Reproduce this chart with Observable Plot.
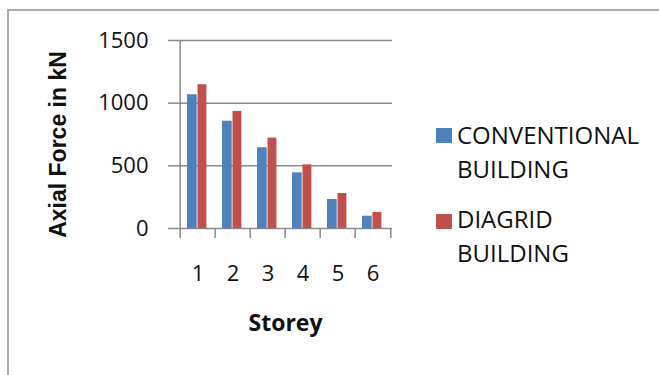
<!DOCTYPE html>
<html>
<head>
<meta charset="utf-8">
<script src="https://cdn.jsdelivr.net/npm/d3@7"></script>
<script src="https://cdn.jsdelivr.net/npm/@observablehq/plot@0.6"></script>
<style>
  body { margin: 0; background: #fff; }
  #chart { position: relative; width: 659px; height: 375px; overflow: hidden; font-family: "Open Sans", sans-serif; }
  #chart svg { position: absolute; left: 0; top: 0; }
  #border { position: absolute; left: 7px; top: 9px; width: 800px; height: 500px;
            border-top: 2px solid #acacac; border-left: 2px solid #acacac; }
  .key { position: absolute; width: 16px; height: 15px; }
  .lab { position: absolute; font-size: 24px; line-height: 24px; color: #111; white-space: nowrap; }
</style>
</head>
<body>
<div id="chart"><div id="border"></div></div>
<script>
// Axial force per storey (kN)
const storeys = ["1", "2", "3", "4", "5", "6"];
const conventional = [1067, 856, 644, 444, 231, 98];
const diagrid = [1147, 934, 721, 508, 279, 128];
const seriesNames = ["CONVENTIONAL BUILDING", "DIAGRID BUILDING"];
const seriesColors = ["#4F81BD", "#C0504D"];
const yTicks = [0, 500, 1000, 1500];

const convRows = storeys.map((s, i) => ({storey: s, series: seriesNames[0], value: conventional[i]}));
const diagRows = storeys.map((s, i) => ({storey: s, series: seriesNames[1], value: diagrid[i]}));

const W = 659, H = 375;
const mL = 178, mR = 267, mT = 40, mB = 147;
const step = (W - mL - mR) / storeys.length;
const gray = "#8a8a8a";
const font = "Open Sans, sans-serif";

const plot = Plot.plot({
  width: W,
  height: H,
  marginLeft: mL,
  marginRight: mR,
  marginTop: mT,
  marginBottom: mB,
  style: {fontFamily: font, background: "transparent", overflow: "visible"},
  x: {type: "band", domain: storeys, padding: 0, axis: null, label: null},
  y: {domain: [0, 1500], axis: null, label: null},
  color: {domain: seriesNames, range: seriesColors},
  marks: [
    Plot.gridY(yTicks, {stroke: gray, strokeOpacity: 1, strokeWidth: 1.5}),
    Plot.barY(convRows, {x: "storey", y: "value", fill: "series", insetLeft: 7, insetRight: 18.3}),
    Plot.barY(diagRows, {x: "storey", y: "value", fill: "series", insetLeft: 17.5, insetRight: 8.6}),
    // vertical axis line at the left edge of the first band
    Plot.ruleX([storeys[0]], {x: d => d, y1: 0, y2: 1500, dx: -step / 2, stroke: gray, strokeWidth: 1.5}),
    // category boundary tick marks
    Plot.axisX({label: null, tickSize: 10, tickFormat: () => "", dx: -step / 2, stroke: gray, strokeWidth: 1.5}),
    Plot.axisX({label: null, ticks: [storeys[storeys.length - 1]], tickSize: 10, tickFormat: () => "", dx: step / 2, stroke: gray, strokeWidth: 1.5}),
    // category labels
    Plot.axisX({label: null, tickSize: 0, tickPadding: 37, fontSize: 22, fill: "#111"}),
    Plot.axisY({label: null, ticks: yTicks, tickSize: 10, tickPadding: 20, fontSize: 22, fill: "#111", stroke: gray, strokeWidth: 1.5, tickFormat: d => String(d)}),
    Plot.text(["Storey"], {frameAnchor: "bottom", dy: 102, fontSize: 23, fontWeight: "bold", fill: "#111"}),
    Plot.text(["Axial Force in kN"], {frameAnchor: "left", textAnchor: "middle", dx: -120, dy: 10, rotate: -90, fontSize: 23, fontWeight: "bold", fontFamily: "Liberation Sans, Arial, sans-serif", fill: "#111"})
  ]
});

const chart = document.getElementById("chart");
chart.appendChild(plot);

// legend to the right of the plot
const legendRows = [
  {color: seriesColors[0], lines: ["CONVENTIONAL", "BUILDING"], top: 123, keyTop: 128},
  {color: seriesColors[1], lines: ["DIAGRID", "BUILDING"], top: 207, keyTop: 214}
];
legendRows.forEach(r => {
  const sq = document.createElement("div");
  sq.className = "key";
  sq.style.left = "436px";
  sq.style.top = r.keyTop + "px";
  sq.style.background = r.color;
  chart.appendChild(sq);
  r.lines.forEach((t, j) => {
    const d = document.createElement("div");
    d.className = "lab";
    d.style.left = "457px";
    d.style.top = (r.top + j * 33.5) + "px";
    d.textContent = t;
    chart.appendChild(d);
  });
});
</script>
</body>
</html>
